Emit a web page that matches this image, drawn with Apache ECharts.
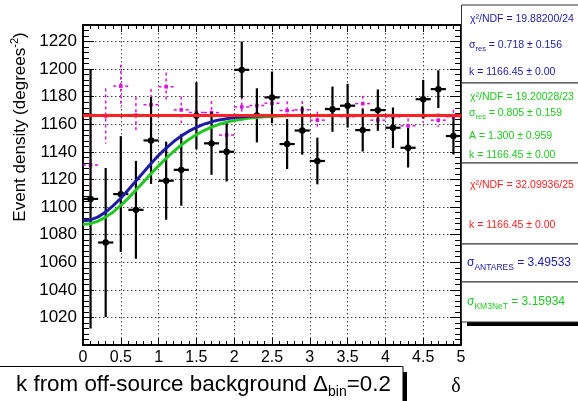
<!DOCTYPE html>
<html>
<head>
<meta charset="utf-8">
<script src="https://cdn.jsdelivr.net/npm/echarts@6/dist/echarts.min.js"></script>
<style>
html,body{margin:0;padding:0;background:#fff;}
#chart{width:578px;height:401px;}
</style>
</head>
<body>
<div id="chart"></div>
<script>
// ---------------- data ----------------
const binCenters = [0.1,0.3,0.5,0.7,0.9,1.1,1.3,1.5,1.7,1.9,2.1,2.3,2.5,2.7,2.9,3.1,3.3,3.5,3.7,3.9,4.1,4.3,4.5,4.7,4.9];
const binHalfWidth = 0.1;
// on-source (black) event density and errors
const onDensity = [1105.9,1074.3,1109.4,1098.0,1148.3,1119.1,1127.0,1166.2,1146.2,1140.1,1199.5,1166.5,1179.5,1145.7,1155.5,1133.4,1171.0,1173.5,1155.8,1170.3,1157.5,1143.0,1178.2,1185.5,1151.5];
const onError   = [94.0,54.0,42.0,35.5,31.5,28.3,26.0,24.3,22.8,21.6,20.5,19.6,18.8,18.1,17.5,16.9,16.4,15.9,15.5,15.0,14.7,14.3,14.0,13.7,13.4];
// off-source (magenta) event density and errors
const offDensity = [1130.5,1166.0,1187.7,1166.7,1174.2,1187.2,1170.5,1168.6,1168.5,1152.2,1172.6,1173.6,1175.3,1170.0,1170.5,1163.0,1171.5,1165.5,1175.0,1163.0,1165.5,1158.9,1166.0,1163.0,1165.5];
const offError   = [34.6,20.0,15.5,13.0,11.5,10.4,9.6,8.9,8.4,7.9,7.5,7.2,6.9,6.7,6.4,6.2,6.0,5.8,5.7,5.5,5.4,5.3,5.1,5.0,4.9];
// fitted curves
const curveX   = [0,0.1,0.2,0.3,0.4,0.5,0.6,0.7,0.8,0.9,1.0,1.1,1.2,1.3,1.4,1.5,1.6,1.7,1.8,1.9,2.0,2.2,2.4,2.6,2.8,3.0,5.0];
const antaresY = [1090.0,1090.7,1092.9,1096.4,1101.0,1106.4,1112.5,1118.9,1125.3,1131.6,1137.5,1142.8,1147.5,1151.6,1155.0,1157.8,1160.1,1161.8,1163.2,1164.1,1164.9,1165.8,1166.2,1166.3,1166.4,1166.45,1166.45];
const km3netY  = [1087.4,1088.0,1089.8,1092.7,1096.5,1101.2,1106.5,1112.3,1118.2,1124.1,1129.9,1135.4,1140.4,1145.0,1149.0,1152.5,1155.5,1158.0,1160.0,1161.6,1162.8,1164.6,1165.5,1166.0,1166.3,1166.4,1166.45];
const flatX    = [0,5];
const flatK    = 1166.45;
// axis ticks
const xTicks = {min:0, max:5, step:0.5};
const yTicks = {min:1000, max:1232, step:20};
// text
const yTitle = 'Event density (degrees';
const statBlue  = ['χ²/NDF = 19.88200/24', '0.718 ± 0.156', 'k = 1166.45 ± 0.00'];
const statGreen = ['χ²/NDF = 19.20028/23', '0.805 ± 0.159', 'A = 1.300 ± 0.959', 'k = 1166.45 ± 0.00'];
const statRed   = ['χ²/NDF = 32.09936/25', 'k = 1166.45 ± 0.00'];
const sigmaAntares = '3.49533';
const sigmaKm3net  = '3.15934';

// ---------------- chart ----------------
const FONT = '"Liberation Sans", Arial, sans-serif';
const BLUE = '#1c1ca8', GREEN = '#22c822', RED = '#ff2222', MAG = '#dd11dd';

function errRender(color, width, dashed, marker) {
  return function (params, api) {
    const x = api.value(0), y = api.value(1), e = api.value(2), hw = api.value(3);
    const c = api.coord([x, y]);
    const t = api.coord([x, y + e]);
    const b = api.coord([x, y - e]);
    const l = api.coord([x - hw, y]);
    const r = api.coord([x + hw, y]);
    const st = {stroke: color, lineWidth: width, lineDash: dashed ? [3, 3] : null};
    const kids = [
      {type: 'line', shape: {x1: t[0], y1: t[1], x2: b[0], y2: b[1]}, style: st},
      {type: 'line', shape: {x1: l[0], y1: l[1], x2: r[0], y2: r[1]}, style: st}
    ];
    if (marker === 'circle') {
      kids.push({type: 'circle', shape: {cx: c[0], cy: c[1], r: 3.2}, style: {fill: color}});
    } else {
      kids.push({type: 'rect', shape: {x: c[0] - 1.8, y: c[1] - 1.8, width: 3.6, height: 3.6}, style: {fill: color}});
    }
    return {type: 'group', children: kids};
  };
}

const onData  = binCenters.map((x, i) => [x, onDensity[i], onError[i], binHalfWidth]);
const offData = binCenters.map((x, i) => [x, offDensity[i], offError[i], binHalfWidth]);
const antaresData = curveX.map((x, i) => [x, antaresY[i]]);
const km3netData  = curveX.map((x, i) => [x, km3netY[i]]);
const flatData    = flatX.map(x => [x, flatK]);

const splitStyle = {show: true, lineStyle: {color: '#444', width: 1, type: [1.5, 2.5]}};
const axLine = {show: true, onZero: false, lineStyle: {color: '#000', width: 2}};

function xAxisDef(pos, labels) {
  return {
    type: 'value', position: pos, min: xTicks.min, max: xTicks.max, interval: xTicks.step,
    axisLine: axLine,
    axisTick: {show: true, inside: true, length: 7, lineStyle: {color: '#000', width: 1}},
    minorTick: {show: true, splitNumber: 5, length: 4, lineStyle: {color: '#000', width: 1}},
    splitLine: labels ? splitStyle : {show: false},
    axisLabel: {show: labels, color: '#000', fontSize: 16, fontFamily: FONT, margin: 5,
                formatter: v => String(v)}
  };
}
function yAxisDef(pos, labels) {
  return {
    type: 'value', position: pos, min: yTicks.min, max: yTicks.max, interval: yTicks.step,
    axisLine: axLine,
    axisTick: {show: true, inside: true, length: 11, lineStyle: {color: '#000', width: 1}},
    minorTick: {show: true, splitNumber: 5, length: 6, lineStyle: {color: '#000', width: 1}},
    splitLine: labels ? splitStyle : {show: false},
    axisLabel: {show: labels, color: '#000', fontSize: 17, fontFamily: FONT, margin: 6,
                showMinLabel: false, showMaxLabel: false, formatter: v => String(v)}
  };
}

function statText(x, y, txt, color, size) {
  return {type: 'text', x: x, y: y, z: 20,
    style: {text: txt, fill: color, font: size + 'px ' + FONT, textVerticalAlign: 'middle'}};
}
function subText(x, y, main, sub, rest, color, size, subSize) {
  return {type: 'text', x: x, y: y, z: 20,
    style: {
      text: '{m|' + main + '}{s|' + sub + '}{m|' + rest + '}',
      textVerticalAlign: 'middle',
      rich: {
        m: {fill: color, fontSize: size, fontFamily: FONT, lineHeight: size + 6, verticalAlign: 'middle'},
        s: {fill: color, fontSize: subSize, fontFamily: FONT, lineHeight: subSize + 1, verticalAlign: 'bottom'}
      }
    }};
}
function box(y, h) {
  return {type: 'rect', z: 10, shape: {x: 461.5, y: y, width: 130, height: h},
    style: {fill: '#fff', stroke: '#333', lineWidth: 1}};
}

const graphics = [
  // y-axis title
  {type: 'text', x: 20, y: 127, rotation: Math.PI / 2, z: 20,
    style: {text: '{m|' + yTitle + '}{s|-2}{m|)}', textAlign: 'center', textVerticalAlign: 'middle',
      rich: {m: {fill: '#000', fontSize: 17, fontFamily: FONT, lineHeight: 22, verticalAlign: 'middle'},
             s: {fill: '#000', fontSize: 11, fontFamily: FONT, lineHeight: 12, verticalAlign: 'top'}}}},
  // stat boxes
  {type: 'rect', z: 9, shape: {x: 467, y: 322, width: 120, height: 4}, style: {fill: '#000'}},
  box(5, 78), box(83, 80), box(163, 81), box(244, 38), box(282, 40),
  statText(470, 19, statBlue[0], BLUE, 10.5),
  subText(469, 45, 'σ', 'res', ' = ' + statBlue[1], BLUE, 10.5, 7.5),
  statText(469, 72, statBlue[2], BLUE, 10.5),
  statText(470, 97, statGreen[0], GREEN, 10.5),
  subText(469, 113, 'σ', 'res', ' = ' + statGreen[1], GREEN, 10.5, 7.5),
  statText(469, 136, statGreen[2], GREEN, 10.5),
  statText(469, 155, statGreen[3], GREEN, 10.5),
  statText(470, 185, statRed[0], RED, 10.5),
  statText(469, 225, statRed[1], RED, 10.5),
  subText(467, 263, 'σ', 'ANTARES', ' = ' + sigmaAntares, BLUE, 12, 8.5),
  subText(467, 302, 'σ', 'KM3NeT', ' = ' + sigmaKm3net, GREEN, 12, 8.5),
  // bottom title box
  {type: 'rect', z: 10, shape: {x: -5, y: 366.5, width: 408, height: 40}, style: {fill: '#fff', stroke: '#000', lineWidth: 1}},
  {type: 'rect', z: 9, shape: {x: 403, y: 372, width: 4, height: 40}, style: {fill: '#000'}},
  subText(16, 385, 'k from off-source background Δ', 'bin', '=0.2', '#000', 22.4, 14),
  // x axis title
  {type: 'text', x: 456, y: 387, z: 20,
    style: {text: 'δ', fill: '#000', font: '20px "Liberation Serif", serif', textAlign: 'center', textVerticalAlign: 'middle'}}
];

const chart = echarts.init(document.getElementById('chart'), null, {renderer: 'canvas'});
chart.setOption({
  animation: false,
  backgroundColor: '#fff',
  grid: {left: 83, right: 117, top: 25, bottom: 56, containLabel: false},
  xAxis: [xAxisDef('bottom', true), xAxisDef('top', false)],
  yAxis: [yAxisDef('left', true), yAxisDef('right', false)],
  series: [
    {type: 'custom', name: 'off', data: offData, renderItem: errRender(MAG, 1.5, true, 'rect'),
      encode: {x: 0, y: 1}, z: 2, clip: true},
    {type: 'custom', name: 'on', data: onData, renderItem: errRender('#000', 2.2, false, 'circle'),
      encode: {x: 0, y: 1}, z: 3, clip: true},
    {type: 'line', name: 'KM3NeT', data: km3netData, smooth: false, showSymbol: false,
      lineStyle: {color: GREEN, width: 3}, z: 4},
    {type: 'line', name: 'ANTARES', data: antaresData, smooth: false, showSymbol: false,
      lineStyle: {color: BLUE, width: 3}, z: 5},
    {type: 'line', name: 'flat', data: flatData, showSymbol: false,
      lineStyle: {color: RED, width: 3}, z: 6}
  ],
  graphic: graphics
});
</script>
</body>
</html>
